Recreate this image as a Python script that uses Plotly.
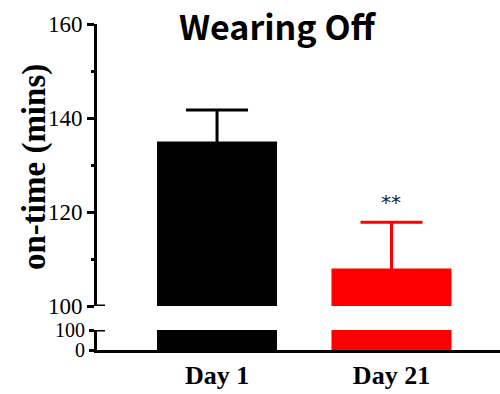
import plotly.graph_objects as go

categories = ["Day 1", "Day 21"]
means = [135, 108]
sem = [6.7, 9.8]
colors = ["#000000", "#FF0000"]
upper_ticks = [100, 120, 140, 160]
lower_ticks = [0, 100]
sig_label = "**"
sig_y = 122.2

W, H = 500, 394
ml, mr, mt, mb = 97, 0, 24, 44
plot_h = H - mt - mb

fig = go.Figure()
for c, m, e, col in zip(categories, means, sem, colors):
    fig.add_trace(go.Bar(
        x=[c], y=[m], marker=dict(color=col, line=dict(width=0)), width=0.688,
        error_y=dict(type="data", array=[e], symmetric=True,
                     color=col, thickness=3, width=31),
        xaxis="x", yaxis="y2", showlegend=False, hoverinfo="skip"))
    fig.add_trace(go.Bar(
        x=[c], y=[m], marker=dict(color=col, line=dict(width=0)), width=0.688,
        xaxis="x", yaxis="y", showlegend=False, hoverinfo="skip"))

serif = "Liberation Serif, Times New Roman, serif"

fig.update_layout(
    width=W, height=H,
    margin=dict(l=ml, r=mr, t=mt, b=mb, pad=0),
    paper_bgcolor="white", plot_bgcolor="white",
    barmode="overlay",
    title=dict(text="<b>Wearing Off</b>", x=277 / W, xanchor="center",
               y=1 - 28 / H, yanchor="middle",
               font=dict(family="Noto Sans CJK JP, sans-serif",
                         size=34, color="black")),
    xaxis=dict(domain=[0, 1], type="category", range=[-0.688, 1.622],
               showline=True, linewidth=3, linecolor="black", ticks="",
               showgrid=False, zeroline=False, anchor="y",
               tickvals=categories, ticktext=["<b>%s</b>" % c for c in categories],
               tickfont=dict(family=serif, size=26, color="black")),
    yaxis=dict(domain=[0, 20 / plot_h], range=[0, 100], tickvals=lower_ticks,
               ticks="outside", ticklen=5, tickwidth=3, tickcolor="black",
               showline=True, linewidth=3, linecolor="black",
               showgrid=False, zeroline=False,
               tickfont=dict(family=serif, size=20, color="black"), anchor="x"),
    yaxis2=dict(domain=[44 / plot_h, 1], range=[100, 160], tickvals=upper_ticks,
                ticks="outside", ticklen=7, tickwidth=3, tickcolor="black",
                minor=dict(dtick=10, ticks="outside", ticklen=3, tickwidth=3, tickcolor="black"),
                showline=True, linewidth=3, linecolor="black",
                showgrid=False, zeroline=False,
                tickfont=dict(family=serif, size=23, color="black"), anchor="x"),
    annotations=[
        dict(x=categories[1], y=sig_y, xref="x", yref="y2", text=sig_label,
             showarrow=False, xanchor="center", yanchor="middle",
             font=dict(family="DejaVu Sans, sans-serif", size=20, color="#222222")),
        dict(x=(34 - ml) / (W - ml - mr), y=(H - mb - 167) / plot_h, xref="paper", yref="paper",
             text="<b>on-time (mins)</b>", textangle=-90, showarrow=False,
             xanchor="center", yanchor="middle",
             font=dict(family=serif, size=33, color="black")),
    ],
    shapes=[
        dict(type="line", xref="x domain", yref="y2", x0=0, x1=8 / (W - ml - mr), y0=100, y1=100,
             line=dict(color="black", width=3)),
        dict(type="line", xref="x domain", yref="y", x0=0, x1=8 / (W - ml - mr), y0=100, y1=100,
             line=dict(color="black", width=3)),
    ],
)

fig.write_html("out.html", config={"displayModeBar": False},
               post_script="document.body.style.margin='0';document.body.style.overflow='hidden';")
